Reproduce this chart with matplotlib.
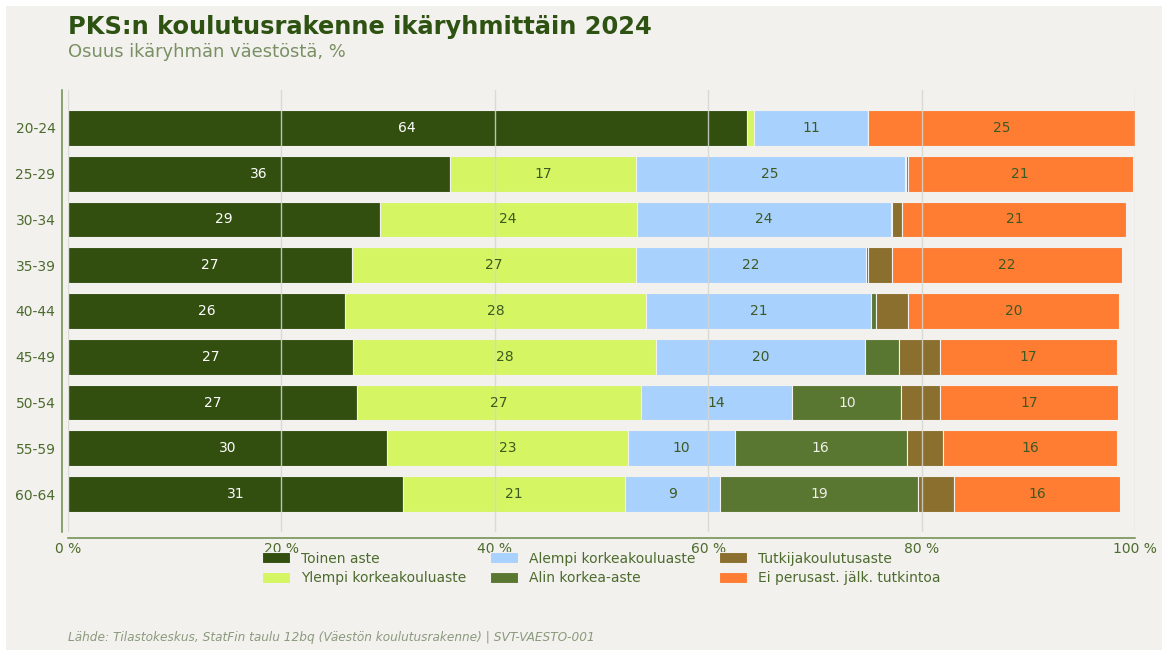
import matplotlib

matplotlib.use("Agg")
import matplotlib.pyplot as plt
from matplotlib.patches import Rectangle

# data (share of age group, %)
ages = ["20-24", "25-29", "30-34", "35-39", "40-44", "45-49", "50-54", "55-59", "60-64"]
toinen = [63.6, 35.8, 29.2, 26.6, 26.0, 26.7, 27.1, 29.9, 31.4]
ylempi = [0.7, 17.4, 24.1, 26.6, 28.2, 28.4, 26.6, 22.6, 20.8]
alempi = [10.7, 25.2, 23.8, 21.6, 21.1, 19.6, 14.2, 10.0, 8.9]
alin = [0.0, 0.1, 0.1, 0.2, 0.4, 3.2, 10.2, 16.1, 18.6]
tutkija = [0.0, 0.2, 1.0, 2.2, 3.0, 3.8, 3.6, 3.4, 3.3]
ei = [25.0, 21.1, 21.0, 21.6, 19.8, 16.6, 16.7, 16.3, 15.6]

series = [
    ("Toinen aste", toinen, "#324f10", "white"),
    ("Ylempi korkeakouluaste", ylempi, "#d5f662", "#3d5a22"),
    ("Alempi korkeakouluaste", alempi, "#a9d1fd", "#3d5a22"),
    ("Alin korkea-aste", alin, "#5a7732", "#f0f0e8"),
    ("Tutkijakoulutusaste", tutkija, "#8a6f2e", "white"),
    ("Ei perusast. jälk. tutkintoa", ei, "#fe7d33", "#3d5a22"),
]

BG = "#f2f1ee"
DARK = "#2e5212"
MUTED = "#7a9064"
TICK = "#4d6b2d"

fig = plt.figure(figsize=(11.62, 6.5), dpi=100, facecolor="white")
fig.patches.append(
    Rectangle((6 / 1162, 0), 1, 1 - 6 / 650, transform=fig.transFigure,
              facecolor=BG, edgecolor="none", zorder=-10)
)
ax = fig.add_axes([68 / 1162, 1 - 532 / 650, (1135 - 68) / 1162, (532 - 90) / 650])
ax.set_facecolor(BG)

y = list(range(len(ages)))
left = [0.0] * len(ages)
for name, vals, color, txt in series:
    bars = ax.barh(y, vals, left=left, height=0.78, color=color,
                   edgecolor=BG, linewidth=0.8, label=name, zorder=2)
    for b, v in zip(bars, vals):
        if v >= 5:
            ax.text(b.get_x() + b.get_width() / 2, b.get_y() + b.get_height() / 2,
                    f"{round(v)}", ha="center", va="center", fontsize=10,
                    color=txt, zorder=4)
    left = [l + v for l, v in zip(left, vals)]

ax.set_xlim(0, 100)
ax.set_yticks(y)
ax.set_yticklabels(ages)
ax.invert_yaxis()
ax.set_xticks(range(0, 101, 20))
ax.set_xticklabels([f"{t} %" for t in range(0, 101, 20)])
ax.tick_params(axis="both", length=0, labelsize=10, labelcolor=TICK)
ax.tick_params(axis="y", pad=4.5)
ax.xaxis.grid(True, color="#d6d6d0", linewidth=1.0, alpha=0.85, zorder=3)
ax.set_axisbelow(False)

for s in ["top", "right"]:
    ax.spines[s].set_visible(False)
ax.spines["left"].set_position(("outward", 4.5))
ax.spines["bottom"].set_position(("outward", 4))
for s in ["left", "bottom"]:
    ax.spines[s].set_color("#6b8a4a")
    ax.spines[s].set_linewidth(1.1)

ax.legend(loc="upper center", bbox_to_anchor=(0.5, -0.016), ncol=3,
          frameon=False, fontsize=10, labelcolor=TICK, handleheight=0.8,
          labelspacing=0.42, columnspacing=1.7)

fig.text(68 / 1162, 1 - 27 / 650, "PKS:n koulutusrakenne ikäryhmittäin 2024",
         fontsize=17.4, fontweight="bold", color=DARK, va="center")
fig.text(68 / 1162, 1 - 52 / 650, "Osuus ikäryhmän väestöstä, %",
         fontsize=12.9, color=MUTED, va="center")
fig.text(68 / 1162, 1 - 638 / 650,
         "Lähde: Tilastokeskus, StatFin taulu 12bq (Väestön koulutusrakenne) | SVT-VAESTO-001",
         fontsize=8.7, style="italic", color="#8b9a7d", va="center")

fig.savefig("out.png", dpi=100, facecolor=fig.get_facecolor())
